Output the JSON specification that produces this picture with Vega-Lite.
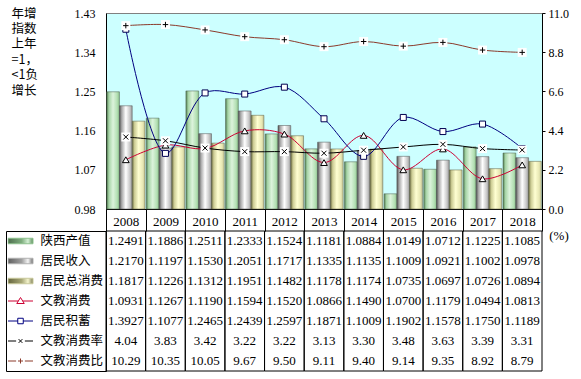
{
  "$schema": "https://vega.github.io/schema/vega-lite/v6.json",
  "padding": {"left": 5, "top": 6, "right": 0, "bottom": 0},
  "background": "white",
  "columns": 2,
  "spacing": {"row": 22, "column": 0},
  "bounds": "flush",
  "config": {"font": "Liberation Serif", "view": {"stroke": null}},
  "datasets": {
    "d": [
      {"year": 2008, "series": "陕西产值", "value": 1.2491},
      {"year": 2009, "series": "陕西产值", "value": 1.1886},
      {"year": 2010, "series": "陕西产值", "value": 1.2511},
      {"year": 2011, "series": "陕西产值", "value": 1.2333},
      {"year": 2012, "series": "陕西产值", "value": 1.1524},
      {"year": 2013, "series": "陕西产值", "value": 1.1181},
      {"year": 2014, "series": "陕西产值", "value": 1.0884},
      {"year": 2015, "series": "陕西产值", "value": 1.0149},
      {"year": 2016, "series": "陕西产值", "value": 1.0712},
      {"year": 2017, "series": "陕西产值", "value": 1.1225},
      {"year": 2018, "series": "陕西产值", "value": 1.1085},
      {"year": 2008, "series": "居民收入", "value": 1.2170},
      {"year": 2009, "series": "居民收入", "value": 1.1197},
      {"year": 2010, "series": "居民收入", "value": 1.1530},
      {"year": 2011, "series": "居民收入", "value": 1.2051},
      {"year": 2012, "series": "居民收入", "value": 1.1717},
      {"year": 2013, "series": "居民收入", "value": 1.1335},
      {"year": 2014, "series": "居民收入", "value": 1.1135},
      {"year": 2015, "series": "居民收入", "value": 1.1009},
      {"year": 2016, "series": "居民收入", "value": 1.0921},
      {"year": 2017, "series": "居民收入", "value": 1.1002},
      {"year": 2018, "series": "居民收入", "value": 1.0978},
      {"year": 2008, "series": "居民总消费", "value": 1.1817},
      {"year": 2009, "series": "居民总消费", "value": 1.1226},
      {"year": 2010, "series": "居民总消费", "value": 1.1312},
      {"year": 2011, "series": "居民总消费", "value": 1.1951},
      {"year": 2012, "series": "居民总消费", "value": 1.1482},
      {"year": 2013, "series": "居民总消费", "value": 1.1178},
      {"year": 2014, "series": "居民总消费", "value": 1.1174},
      {"year": 2015, "series": "居民总消费", "value": 1.0735},
      {"year": 2016, "series": "居民总消费", "value": 1.0697},
      {"year": 2017, "series": "居民总消费", "value": 1.0726},
      {"year": 2018, "series": "居民总消费", "value": 1.0894},
      {"year": 2008, "series": "文教消费", "value": 1.0931},
      {"year": 2009, "series": "文教消费", "value": 1.1267},
      {"year": 2010, "series": "文教消费", "value": 1.1190},
      {"year": 2011, "series": "文教消费", "value": 1.1594},
      {"year": 2012, "series": "文教消费", "value": 1.1520},
      {"year": 2013, "series": "文教消费", "value": 1.0866},
      {"year": 2014, "series": "文教消费", "value": 1.1490},
      {"year": 2015, "series": "文教消费", "value": 1.0700},
      {"year": 2016, "series": "文教消费", "value": 1.1179},
      {"year": 2017, "series": "文教消费", "value": 1.0494},
      {"year": 2018, "series": "文教消费", "value": 1.0813},
      {"year": 2008, "series": "居民积蓄", "value": 1.3927},
      {"year": 2009, "series": "居民积蓄", "value": 1.1077},
      {"year": 2010, "series": "居民积蓄", "value": 1.2465},
      {"year": 2011, "series": "居民积蓄", "value": 1.2439},
      {"year": 2012, "series": "居民积蓄", "value": 1.2597},
      {"year": 2013, "series": "居民积蓄", "value": 1.1871},
      {"year": 2014, "series": "居民积蓄", "value": 1.1009},
      {"year": 2015, "series": "居民积蓄", "value": 1.1902},
      {"year": 2016, "series": "居民积蓄", "value": 1.1578},
      {"year": 2017, "series": "居民积蓄", "value": 1.1750},
      {"year": 2018, "series": "居民积蓄", "value": 1.1189},
      {"year": 2008, "series": "文教消费率", "value": 4.04},
      {"year": 2009, "series": "文教消费率", "value": 3.83},
      {"year": 2010, "series": "文教消费率", "value": 3.42},
      {"year": 2011, "series": "文教消费率", "value": 3.22},
      {"year": 2012, "series": "文教消费率", "value": 3.22},
      {"year": 2013, "series": "文教消费率", "value": 3.13},
      {"year": 2014, "series": "文教消费率", "value": 3.30},
      {"year": 2015, "series": "文教消费率", "value": 3.48},
      {"year": 2016, "series": "文教消费率", "value": 3.63},
      {"year": 2017, "series": "文教消费率", "value": 3.39},
      {"year": 2018, "series": "文教消费率", "value": 3.31},
      {"year": 2008, "series": "文教消费比", "value": 10.29},
      {"year": 2009, "series": "文教消费比", "value": 10.35},
      {"year": 2010, "series": "文教消费比", "value": 10.05},
      {"year": 2011, "series": "文教消费比", "value": 9.67},
      {"year": 2012, "series": "文教消费比", "value": 9.50},
      {"year": 2013, "series": "文教消费比", "value": 9.11},
      {"year": 2014, "series": "文教消费比", "value": 9.40},
      {"year": 2015, "series": "文教消费比", "value": 9.14},
      {"year": 2016, "series": "文教消费比", "value": 9.35},
      {"year": 2017, "series": "文教消费比", "value": 8.92},
      {"year": 2018, "series": "文教消费比", "value": 8.79}
    ]
  },
  "concat": [
    {
      "width": 100, "height": 196,
      "data": {"values": []},
      "mark": "text"
    },
    {
      "width": 436, "height": 196,
      "view": {"fill": "#ccffff", "stroke": "#808080", "strokeWidth": 1},
      "data": {"name": "d"},
      "encoding": {
        "x": {
          "field": "year", "type": "ordinal",
          "scale": {"paddingInner": 0, "paddingOuter": 0},
          "axis": {
            "orient": "bottom", "title": null, "domain": true, "domainColor": "black",
            "ticks": true, "tickBand": "extent", "tickSize": 22, "tickColor": "black", "tickWidth": 1,
            "labelPadding": -16, "labelFontSize": 13, "labelColor": "black", "labelFont": "Liberation Serif",
            "labelFontWeight": "normal", "labelAngle": 0, "grid": false
          }
        }
      },
      "layer": [
        {
          "encoding": {
            "y": {
              "field": "value", "type": "quantitative",
              "scale": {"domain": [0.98, 1.43], "zero": false, "nice": false},
              "axis": {
                "orient": "left", "values": [0.98, 1.07, 1.16, 1.25, 1.34, 1.43], "format": ".2f",
                "grid": false, "ticks": false, "domain": true, "domainColor": "black",
                "labelPadding": 11, "labelFontSize": 12, "labelColor": "black", "labelFont": "Liberation Serif",
                "labelFlush": false, "labelOverlap": false,
                "title": ["年增", "指数", "上年", "=1，", "<1负", "增长"],
                "titleFont": "Noto Sans CJK SC", "titleFontSize": 12.5, "titleFontWeight": "normal",
                "titleAngle": 0, "titleAlign": "left", "titleBaseline": "top",
                "titleX": -95, "titleY": -6, "titleLineHeight": 15.4, "titleColor": "black"
              }
            }
          },
          "layer": [
            {
              "transform": [{"filter": "datum.series === '陕西产值'"}],
              "mark": {"type": "bar", "stroke": "#4a5a4a", "strokeWidth": 0.5,
                "fill": {"gradient": "linear", "x1": 0, "x2": 1, "y1": 0, "y2": 0,
                  "stops": [{"offset": 0, "color": "#4e7a4e"}, {"offset": 0.18, "color": "#a6d4a6"}, {"offset": 0.5, "color": "#dcf3dc"}, {"offset": 0.82, "color": "#b4e0b4"}, {"offset": 1, "color": "#8cc08c"}]}},
              "encoding": {
                "xOffset": {"field": "series", "type": "nominal", "scale": {"domain": ["陕西产值", "居民收入", "居民总消费"], "paddingInner": 0, "paddingOuter": 0.05}},
                "y2": {"datum": 0.98}
              }
            },
            {
              "transform": [{"filter": "datum.series === '居民收入'"}],
              "mark": {"type": "bar", "stroke": "#505050", "strokeWidth": 0.5,
                "fill": {"gradient": "linear", "x1": 0, "x2": 1, "y1": 0, "y2": 0,
                  "stops": [{"offset": 0, "color": "#505050"}, {"offset": 0.18, "color": "#a8a8a8"}, {"offset": 0.5, "color": "#ffffff"}, {"offset": 0.82, "color": "#c8c8c8"}, {"offset": 1, "color": "#959595"}]}},
              "encoding": {
                "xOffset": {"field": "series", "type": "nominal", "scale": {"domain": ["陕西产值", "居民收入", "居民总消费"], "paddingInner": 0, "paddingOuter": 0.05}},
                "y2": {"datum": 0.98}
              }
            },
            {
              "transform": [{"filter": "datum.series === '居民总消费'"}],
              "mark": {"type": "bar", "stroke": "#5a5a40", "strokeWidth": 0.5,
                "fill": {"gradient": "linear", "x1": 0, "x2": 1, "y1": 0, "y2": 0,
                  "stops": [{"offset": 0, "color": "#6b6b40"}, {"offset": 0.18, "color": "#cccc94"}, {"offset": 0.5, "color": "#ffffd2"}, {"offset": 0.82, "color": "#e8e8b4"}, {"offset": 1, "color": "#c4c496"}]}},
              "encoding": {
                "xOffset": {"field": "series", "type": "nominal", "scale": {"domain": ["陕西产值", "居民收入", "居民总消费"], "paddingInner": 0, "paddingOuter": 0.05}},
                "y2": {"datum": 0.98}
              }
            },
            {
              "transform": [{"filter": "datum.series === '文教消费' || datum.series === '居民积蓄'"}],
              "mark": {"type": "line", "interpolate": "catmull-rom", "strokeWidth": 1},
              "encoding": {
                "stroke": {
                  "field": "series", "type": "nominal",
                  "scale": {
                    "domain": ["陕西产值", "居民收入", "居民总消费", "文教消费", "居民积蓄", "文教消费率", "文教消费比"],
                    "range": ["#8cc08c", "#b0b0b0", "#c8c89a", "#cc0033", "#000080", "#000000", "#8b3a2b"]
                  },
                  "legend": {
                    "orient": "none", "legendX": 1.5, "legendY": 218, "title": null,
                    "padding": 0, "clipHeight": 20, "rowPadding": 0, "symbolSize": 625,
                    "labelOffset": 7, "labelFont": "Noto Sans CJK SC", "labelFontSize": 12.5, "labelColor": "black",
                    "labelLimit": 0, "symbolStrokeWidth": 1,
                    "encoding": {
                      "symbols": {
                        "shape": {"value": {"expr": "datum.value === '文教消费' ? 'M-1,0H-0.175M0.175,0H1M-0.3,0.2L0,-0.28L0.3,0.2Z' : datum.value === '居民积蓄' ? 'M-1,0H-0.22M0.22,0H1M-0.22,-0.22H0.22V0.22H-0.22Z' : datum.value === '文教消费率' ? 'M-1,0H-0.35M0.35,0H1M-0.15,-0.15L0.15,0.15M-0.15,0.15L0.15,-0.15' : datum.value === '文教消费比' ? 'M-1,0H-0.35M0.35,0H1M-0.2,0H0.2M0,-0.2V0.2' : 'M-1,-0.22H1V0.22H-1Z'"}},
                        "fill": {
                          "condition": [
                            {"test": "datum.value === '陕西产值'", "value": {"gradient": "linear", "x1": 0, "x2": 1, "y1": 0, "y2": 0, "stops": [{"offset": 0, "color": "#4e6e4e"}, {"offset": 0.55, "color": "#7fae7f"}, {"offset": 0.8, "color": "#d4f0d4"}, {"offset": 1, "color": "#5f8f5f"}]}},
                            {"test": "datum.value === '居民收入'", "value": {"gradient": "linear", "x1": 0, "x2": 1, "y1": 0, "y2": 0, "stops": [{"offset": 0, "color": "#606060"}, {"offset": 0.55, "color": "#a0a0a0"}, {"offset": 0.8, "color": "#f4f4f4"}, {"offset": 1, "color": "#707070"}]}},
                            {"test": "datum.value === '居民总消费'", "value": {"gradient": "linear", "x1": 0, "x2": 1, "y1": 0, "y2": 0, "stops": [{"offset": 0, "color": "#66663e"}, {"offset": 0.55, "color": "#a8a878"}, {"offset": 0.8, "color": "#f4f4cc"}, {"offset": 1, "color": "#80805a"}]}}
                          ],
                          "value": "white"
                        },
                        "stroke": {"value": {"expr": "datum.value === '文教消费' ? '#cc0033' : datum.value === '居民积蓄' ? '#000080' : datum.value === '文教消费率' ? '#000000' : datum.value === '文教消费比' ? '#8b3a2b' : '#404040'"}},
                        "opacity": {"value": 1}
                      }
                    }
                  }
                }
              }
            },
            {
              "transform": [{"filter": "datum.series === '文教消费'"}],
              "mark": {"type": "point", "shape": "triangle-up", "size": 45, "filled": true, "fill": "white", "stroke": "black", "strokeWidth": 1, "opacity": 1}
            },
            {
              "transform": [{"filter": "datum.series === '居民积蓄'"}],
              "mark": {"type": "point", "shape": "square", "size": 36, "filled": true, "fill": "white", "stroke": "#000050", "strokeWidth": 1, "opacity": 1}
            }
          ]
        },
        {
          "encoding": {
            "y": {
              "field": "value", "type": "quantitative",
              "scale": {"domain": [0, 11], "nice": false},
              "axis": {
                "orient": "right", "values": [0, 2.2, 4.4, 6.6, 8.8, 11], "format": ".1f",
                "grid": false, "ticks": true, "tickSize": 3, "tickColor": "black",
                "domain": true, "domainColor": "black",
                "labelPadding": 3, "labelFontSize": 12, "labelColor": "black", "labelFont": "Liberation Serif",
                "labelFlush": false, "labelOverlap": false,
                "title": "(%)", "titleAngle": 0, "titleFont": "Liberation Serif", "titleFontSize": 13,
                "titleFontWeight": "normal", "titleX": 16.5, "titleY": 222, "titleAlign": "center",
                "titleBaseline": "middle", "titleColor": "black"
              }
            }
          },
          "layer": [
            {
              "transform": [{"filter": "datum.series === '文教消费率' || datum.series === '文教消费比'"}],
              "mark": {"type": "line", "interpolate": "catmull-rom", "strokeWidth": 1},
              "encoding": {
                "stroke": {
                  "field": "series", "type": "nominal",
                  "scale": {
                    "domain": ["陕西产值", "居民收入", "居民总消费", "文教消费", "居民积蓄", "文教消费率", "文教消费比"],
                    "range": ["#8cc08c", "#b0b0b0", "#c8c89a", "#cc0033", "#000080", "#000000", "#8b3a2b"]
                  },
                  "legend": {
                    "orient": "none", "legendX": 1.5, "legendY": 218, "title": null,
                    "padding": 0, "clipHeight": 20, "rowPadding": 0, "symbolSize": 625,
                    "labelOffset": 7, "labelFont": "Noto Sans CJK SC", "labelFontSize": 12.5, "labelColor": "black",
                    "labelLimit": 0, "symbolStrokeWidth": 1,
                    "encoding": {
                      "symbols": {
                        "shape": {"value": {"expr": "datum.value === '文教消费' ? 'M-1,0H-0.175M0.175,0H1M-0.3,0.2L0,-0.28L0.3,0.2Z' : datum.value === '居民积蓄' ? 'M-1,0H-0.22M0.22,0H1M-0.22,-0.22H0.22V0.22H-0.22Z' : datum.value === '文教消费率' ? 'M-1,0H-0.35M0.35,0H1M-0.15,-0.15L0.15,0.15M-0.15,0.15L0.15,-0.15' : datum.value === '文教消费比' ? 'M-1,0H-0.35M0.35,0H1M-0.2,0H0.2M0,-0.2V0.2' : 'M-1,-0.22H1V0.22H-1Z'"}},
                        "fill": {
                          "condition": [
                            {"test": "datum.value === '陕西产值'", "value": {"gradient": "linear", "x1": 0, "x2": 1, "y1": 0, "y2": 0, "stops": [{"offset": 0, "color": "#4e6e4e"}, {"offset": 0.55, "color": "#7fae7f"}, {"offset": 0.8, "color": "#d4f0d4"}, {"offset": 1, "color": "#5f8f5f"}]}},
                            {"test": "datum.value === '居民收入'", "value": {"gradient": "linear", "x1": 0, "x2": 1, "y1": 0, "y2": 0, "stops": [{"offset": 0, "color": "#606060"}, {"offset": 0.55, "color": "#a0a0a0"}, {"offset": 0.8, "color": "#f4f4f4"}, {"offset": 1, "color": "#707070"}]}},
                            {"test": "datum.value === '居民总消费'", "value": {"gradient": "linear", "x1": 0, "x2": 1, "y1": 0, "y2": 0, "stops": [{"offset": 0, "color": "#66663e"}, {"offset": 0.55, "color": "#a8a878"}, {"offset": 0.8, "color": "#f4f4cc"}, {"offset": 1, "color": "#80805a"}]}}
                          ],
                          "value": "white"
                        },
                        "stroke": {"value": {"expr": "datum.value === '文教消费' ? '#cc0033' : datum.value === '居民积蓄' ? '#000080' : datum.value === '文教消费率' ? '#000000' : datum.value === '文教消费比' ? '#8b3a2b' : '#404040'"}},
                        "opacity": {"value": 1}
                      }
                    }
                  }
                }
              }
            },
            {
              "transform": [{"filter": "datum.series === '文教消费率' || datum.series === '文教消费比'"}],
              "mark": {"type": "point", "shape": "square", "size": 80, "filled": true, "fill": "white", "strokeWidth": 0, "opacity": 1}
            },
            {
              "transform": [{"filter": "datum.series === '文教消费率'"}],
              "mark": {"type": "point", "shape": "M-1,-1L1,1M-1,1L1,-1", "size": 25, "filled": false, "stroke": "black", "strokeWidth": 1, "opacity": 1}
            },
            {
              "transform": [{"filter": "datum.series === '文教消费比'"}],
              "mark": {"type": "point", "shape": "M-1,0H1M0,-1V1", "size": 30, "filled": false, "stroke": "black", "strokeWidth": 1, "opacity": 1}
            }
          ]
        }
      ],
      "resolve": {"scale": {"y": "independent"}}
    },
    {
      "width": 100, "height": 140,
      "view": {"stroke": "black", "strokeWidth": 1},
      "data": {"values": []},
      "mark": "text"
    },
    {
      "width": 436, "height": 140,
      "data": {"name": "d"},
      "encoding": {
        "x": {"field": "year", "type": "ordinal", "scale": {"paddingInner": 0, "paddingOuter": 0}, "axis": null}
      },
      "layer": [
        {
          "transform": [{"filter": "datum.series === '陕西产值'"}],
          "mark": {"type": "rect", "fillOpacity": 0, "stroke": "black", "strokeWidth": 1}
        },
        {
          "transform": [{"filter": "datum.series !== '文教消费率' && datum.series !== '文教消费比'"}],
          "mark": {"type": "text", "fontSize": 13, "font": "Liberation Serif", "color": "black"},
          "encoding": {
            "y": {"field": "series", "type": "nominal", "scale": {"domain": ["陕西产值", "居民收入", "居民总消费", "文教消费", "居民积蓄", "文教消费率", "文教消费比"]}, "axis": null},
            "text": {"field": "value", "type": "quantitative", "format": ".4f"}
          }
        },
        {
          "transform": [{"filter": "datum.series === '文教消费率' || datum.series === '文教消费比'"}],
          "mark": {"type": "text", "fontSize": 13, "font": "Liberation Serif", "color": "black"},
          "encoding": {
            "y": {"field": "series", "type": "nominal", "scale": {"domain": ["陕西产值", "居民收入", "居民总消费", "文教消费", "居民积蓄", "文教消费率", "文教消费比"]}, "axis": null},
            "text": {"field": "value", "type": "quantitative", "format": ".2f"}
          }
        }
      ]
    }
  ]
}
